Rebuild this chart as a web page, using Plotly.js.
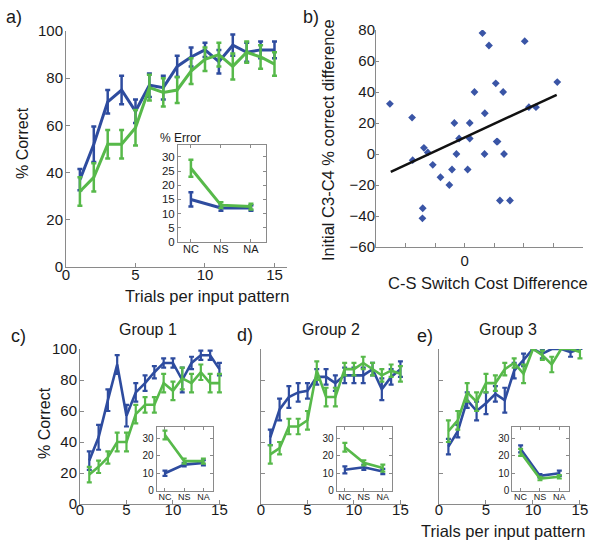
<!DOCTYPE html>
<html>
<head>
<meta charset="utf-8">
<script src="https://cdn.plot.ly/plotly-3.0.1.min.js"></script>
<style>html,body{margin:0;padding:0;background:#fff;}#chart{width:601px;height:544px;}</style>
</head>
<body>
<div id="chart"></div>
<script>
// ---------- data ----------
const trials = [1,2,3,4,5,6,7,8,9,10,11,12,13,14,15];
const conds = ['NC','NS','NA'];

// panel a
const aBlue = [37,52,70,75,66,77,76,85,89,92,87,94,91,92,92];
const aBlueErr = [4.5,7.5,5,6,5,5,5,4.5,4,3,5,4.5,4,3.5,3.5];
const aGreen = [32,38,52,52,59,76,74,75,83,88,90,85,91,89,86];
const aGreenErr = [6,6,6,6,7.5,5.5,6,5.5,5.5,5,5,5.5,4.5,5,5];
const aInsetBlue = [15,12,12];
const aInsetBlueErr = [2.5,1,1];
const aInsetGreen = [26,13,12.5];
const aInsetGreenErr = [3,1,1];

// panel b
const bX = [-2.53,-1.78,-1.76,-1.38,-1.25,-1.08,-1.42,-1.43,-0.82,-0.52,-0.43,-0.35,-0.28,-0.19,0.10,0.17,0.17,0.33,0.60,0.68,0.67,0.82,1.05,1.08,1.11,1.19,1.30,1.33,1.53,2.03,2.17,2.41,3.13];
const bY = [32.4,23.5,-4,4,1,-7,-35,-41.5,-15,-20,-10,20,0,10,-10,20,10,40,78,26.3,0,70,45.6,8,8,-30,40,0,-30,72.8,30.2,30.2,46.4];
const fitX = [-2.5,3.11];
const fitY = [-11.5,38.2];

// panel c (Group 1)
const cBlue = [28,43,67,90,57,72,78,85,91,91,80,91,96,96,87];
const cBlueErr = [6,8,7,6,7,6,5,4,3,3,8,4,3,3,4];
const cGreen = [19,24,30,40,40,58,64,64,78,73,81,78,85,78,78];
const cGreenErr = [5,4,4,6,6,6,5,5,6,6,7,6,5,6,6];
const cInsetBlue = [10,15,16];
const cInsetBlueErr = [1.5,1,1.5];
const cInsetGreen = [32,17,17];
const cInsetGreenErr = [2.5,1.5,1.5];

// panel d (Group 2)
const dBlue = [43,61,69,72,73,82,82,78,83,83,83,87,74,82,87];
const dBlueErr = [5,7,7,6,5,5,5,5,5,5,5,4,7,5,5];
const dGreen = [32,36,50,50,54,86,69,69,87,87,91,87,83,86,84];
const dGreenErr = [6,4,5,5,6,6,6,6,4,4,4,4,4,4,5];
const dInsetBlue = [12,13.5,11];
const dInsetBlueErr = [2,1.5,1.5];
const dInsetGreen = [25,16,13];
const dInsetGreenErr = [2.5,1.5,2];

// panel e (Group 3)
const eBlue = [37,47,67,60,65,71,67,86,93,100,97,100,100,98,100];
const eBlueErr = [5,4,5,6,7,5,8,5,4,0,3,0,0,3,0];
const eGreen = [47,54,72,66,78,78,87,91,84,100,96,90,100,100,98];
const eGreenErr = [7,6,6,6,6,5,4,3,6,0,3,5,0,0,4];
const eInsetBlue = [24,8.5,10];
const eInsetBlueErr = [2,1,1.5];
const eInsetGreen = [22,7,8];
const eInsetGreenErr = [2,1,1];

// ---------- styling ----------
const BLUE = '#2e4c9f';
const GREEN = '#57b94a';
const FONT = 'Liberation Sans, Arial, Helvetica, sans-serif';
const TXT = '#1a1a1a';
const AX = '#8a8a8a';

function line(x, y, err, color, xa, ya, lw, ew) {
  return {
    type: 'scatter', mode: 'lines', x: x, y: y,
    xaxis: xa, yaxis: ya,
    line: {color: color, width: lw},
    error_y: {type: 'data', array: err, visible: true, color: color, thickness: ew, width: 2.5},
    hoverinfo: 'x+y', showlegend: false, cliponaxis: false
  };
}

const traces = [
  line(trials, aBlue, aBlueErr, BLUE, 'x', 'y', 3, 2.5),
  line(trials, aGreen, aGreenErr, GREEN, 'x', 'y', 3, 2.5),
  line(conds, aInsetBlue, aInsetBlueErr, BLUE, 'x2', 'y2', 3, 2.5),
  line(conds, aInsetGreen, aInsetGreenErr, GREEN, 'x2', 'y2', 3, 2.5),
  {type: 'scatter', mode: 'markers', x: bX, y: bY, xaxis: 'x3', yaxis: 'y3',
   marker: {symbol: 'diamond', size: 6, color: '#3a55a6'}, showlegend: false},
  {type: 'scatter', mode: 'lines', x: fitX, y: fitY, xaxis: 'x3', yaxis: 'y3',
   line: {color: '#111', width: 2.5}, showlegend: false},
  line(trials, cBlue, cBlueErr, BLUE, 'x4', 'y4', 2.6, 2.2),
  line(trials, cGreen, cGreenErr, GREEN, 'x4', 'y4', 2.6, 2.2),
  line(conds, cInsetBlue, cInsetBlueErr, BLUE, 'x5', 'y5', 2.6, 2.2),
  line(conds, cInsetGreen, cInsetGreenErr, GREEN, 'x5', 'y5', 2.6, 2.2),
  line(trials, dBlue, dBlueErr, BLUE, 'x6', 'y6', 2.6, 2.2),
  line(trials, dGreen, dGreenErr, GREEN, 'x6', 'y6', 2.6, 2.2),
  line(conds, dInsetBlue, dInsetBlueErr, BLUE, 'x7', 'y7', 2.6, 2.2),
  line(conds, dInsetGreen, dInsetGreenErr, GREEN, 'x7', 'y7', 2.6, 2.2),
  line(trials, eBlue, eBlueErr, BLUE, 'x8', 'y8', 2.6, 2.2),
  line(trials, eGreen, eGreenErr, GREEN, 'x8', 'y8', 2.6, 2.2),
  line(conds, eInsetBlue, eInsetBlueErr, BLUE, 'x9', 'y9', 2.6, 2.2),
  line(conds, eInsetGreen, eInsetGreenErr, GREEN, 'x9', 'y9', 2.6, 2.2)
];

const W = 601, H = 544;
const px = v => v / W;
const py = v => 1 - v / H;

function mainX(d0, d1, anchor, range, size, standoff) {
  return {domain: [px(d0), px(d1)], anchor: anchor, range: range,
    showline: true, linecolor: AX, linewidth: 1, ticks: 'inside', ticklen: 4, tickcolor: AX,
    tickvals: [0,5,10,15], showgrid: false, zeroline: false, ticklabelstandoff: standoff,
    tickfont: {family: FONT, size: size, color: TXT}};
}
function mainY(d0, d1, anchor, labels, size) {
  return {domain: [py(d1), py(d0)], anchor: anchor, range: [0, 100],
    showline: true, linecolor: AX, linewidth: 1, ticks: 'inside', ticklen: 4, tickcolor: AX,
    tickvals: [0,20,40,60,80,100], showticklabels: labels, showgrid: false, zeroline: false,
    ticklabelstandoff: -1,
    tickfont: {family: FONT, size: size, color: TXT}};
}
function insetX(d0, d1, anchor, size) {
  return {domain: [px(d0), px(d1)], anchor: anchor, type: 'category', range: [-0.43, 2.5],
    showline: true, mirror: 'ticks', linecolor: AX, linewidth: 1, ticks: 'inside', ticklen: 3, tickcolor: AX,
    showgrid: false, zeroline: false, ticklabelstandoff: -3,
    tickfont: {family: FONT, size: size, color: TXT}};
}
function insetY(d0, d1, anchor, range, dtick, size) {
  return {domain: [py(d1), py(d0)], anchor: anchor, range: range, dtick: dtick, tick0: 0,
    showline: true, mirror: 'ticks', linecolor: AX, linewidth: 1, ticks: 'inside', ticklen: 3, tickcolor: AX,
    showgrid: false, zeroline: false, tickfont: {family: FONT, size: size, color: TXT}};
}

function ann(text, x, y, size, angle) {
  return {text: text, x: px(x), y: py(y), xref: 'paper', yref: 'paper',
    xanchor: 'center', yanchor: 'middle', showarrow: false, textangle: angle || 0,
    font: {family: FONT, size: size, color: TXT}};
}

const layout = {
  width: W, height: H,
  margin: {l: 0, r: 0, t: 0, b: 0},
  paper_bgcolor: '#fff', plot_bgcolor: 'rgba(0,0,0,0)',
  showlegend: false,
  font: {family: FONT, color: TXT},
  xaxis: mainX(66, 287, 'y', [0, 15.9], 15, -6),
  yaxis: mainY(31, 267, 'x', true, 15),
  xaxis2: insetX(178, 266, 'y2', 11),
  yaxis2: insetY(145, 242, 'x2', [0, 34.2], 5, 11.5),
  xaxis3: {domain: [px(376), px(583)], anchor: 'y3', range: [-3, 4],
    showline: true, linecolor: AX, linewidth: 1, ticks: 'inside', ticklen: 4, tickcolor: AX,
    tickvals: [-3,-2,-1,0,1,2,3,4], ticktext: ['','','','0','','','',''],
    showgrid: false, zeroline: false, tickfont: {family: FONT, size: 15, color: TXT}},
  yaxis3: {domain: [py(247), py(30)], anchor: 'x3', range: [-60, 80],
    showline: true, linecolor: AX, linewidth: 1, ticks: 'inside', ticklen: 3, tickcolor: AX,
    tickvals: [-60,-40,-20,0,20,40,60,80], ticktext: ['\u221260','\u221240','\u221220','0','20','40','60','80'],
    showgrid: false, zeroline: false, ticklabelstandoff: -3,
    tickfont: {family: FONT, size: 15, color: TXT}},
  xaxis4: mainX(80, 225, 'y4', [0, 15.6], 15, -8),
  yaxis4: mainY(349, 504, 'x4', true, 15),
  xaxis5: insetX(156.7, 213, 'y5', 9),
  yaxis5: insetY(427, 490.7, 'x5', [0, 36.6], 10, 10),
  xaxis6: mainX(261, 406, 'y6', [0, 15.6], 15, -8),
  yaxis6: mainY(349, 504, 'x6', false, 15),
  xaxis7: insetX(336.7, 392.3, 'y7', 9),
  yaxis7: insetY(427, 490.7, 'x7', [0, 36.6], 10, 10),
  xaxis8: mainX(439, 585.6, 'y8', [0, 15.6], 15, -8),
  yaxis8: mainY(349, 504, 'x8', false, 15),
  xaxis9: insetX(512.3, 569, 'y9', 9),
  yaxis9: insetY(427, 490.7, 'x9', [0, 36.6], 10, 10),
  annotations: [
    ann('a)', 14, 17, 18),
    ann('b)', 311, 17, 18),
    ann('c)', 18, 336, 18),
    ann('d)', 245, 335, 18),
    ann('e)', 425, 336, 18),
    ann('% Correct', 22, 143, 16, -90),
    ann('Trials per input pattern', 207, 296, 16.5),
    ann('% Error', 180, 138, 12),
    ann('Initial C3-C4 % correct difference', 328, 140, 16.5, -90),
    ann('C-S Switch Cost Difference', 488, 283, 16.5),
    ann('Group 1', 148, 329, 16),
    ann('Group 2', 331, 329, 16),
    ann('Group 3', 508, 329, 16),
    ann('% Correct', 44, 423, 16, -90),
    ann('Trials per input pattern', 503, 531, 16.5)
  ]
};

Plotly.newPlot('chart', traces, layout, {staticPlot: true, displayModeBar: false});
</script>
</body>
</html>
